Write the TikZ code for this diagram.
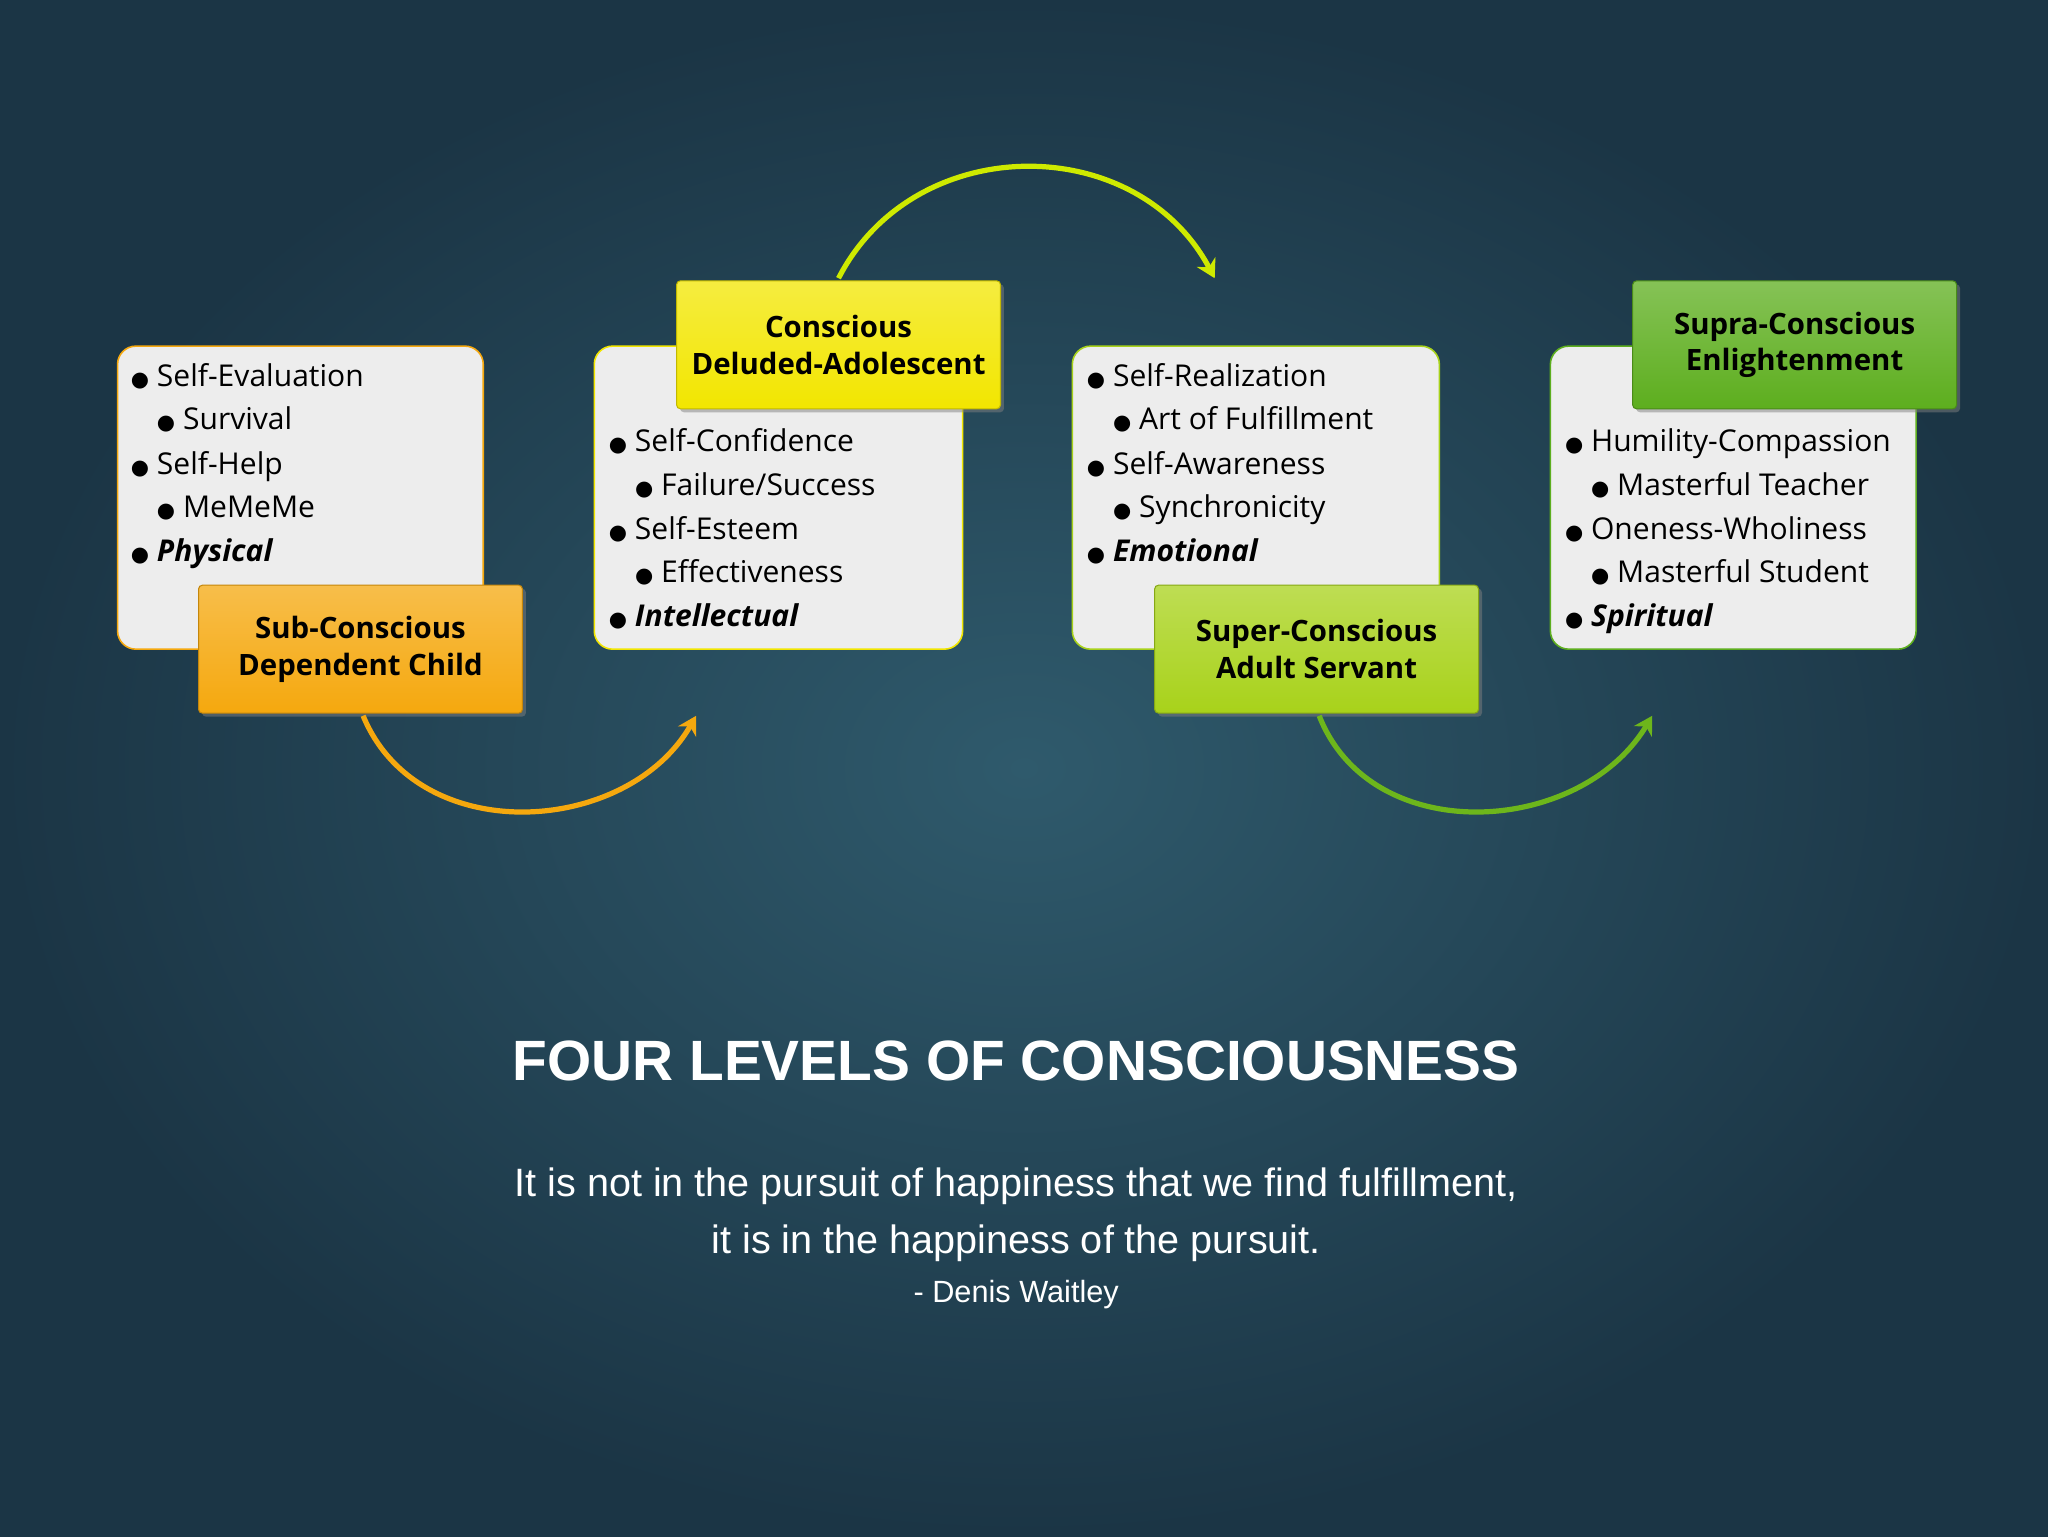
\documentclass[tikz,border=0pt]{standalone}
\usepackage{fontspec}
\setmainfont{Open Sans}
\newfontfamily\arial{Liberation Sans}
\newfontfamily\djvfont{DejaVu Sans}
\usetikzlibrary{arrows.meta,shadows}
\definecolor{bgin}{HTML}{2F5A6C}
\definecolor{bgout}{HTML}{1B3545}
\definecolor{boxfill}{HTML}{EDEDED}
\definecolor{corange}{HTML}{F5A80E}
\definecolor{cyellow}{HTML}{F2E600}
\definecolor{cygreen}{HTML}{A8D21A}
\definecolor{cgreen}{HTML}{5DAE1E}
\newcommand{\bul}{{\djvfont\fontsize{16}{20}\selectfont ●}\hspace{6pt}}
\tikzset{
 listbox/.style={draw=#1,line width=1.2pt,fill=boxfill,rounded corners=14pt},
 lab/.style={draw=#1!80!black,line width=0.8pt,top color=#1!75!white,bottom color=#1,rounded corners=3pt,drop shadow={opacity=0.5},minimum width=248pt,minimum height=98pt,align=center,font=\fontsize{22.5}{28}\selectfont\bfseries,text=black},
 it/.style={anchor=base west,font=\fontsize{23}{26}\selectfont,text=black,inner sep=0pt},
 arr/.style={line width=4pt,draw=#1,-{Stealth[length=14pt,width=16pt]}}
}
\begin{document}
\begin{tikzpicture}[x=1pt,y=-1pt]
\shade[inner color=bgin,outer color=bgout] (0,0) rectangle (1568,1176);
\useasboundingbox (0,0) rectangle (1568,1176);
% boxes
\draw[listbox=corange] (90,265) rectangle (370,497);
\draw[listbox=cyellow] (455,265) rectangle (737,497);
\draw[listbox=cygreen] (821,265) rectangle (1102,497);
\draw[listbox=cgreen] (1187,265) rectangle (1467,497);
% box1
\node[it] (a1) at (100,296) {\bul Self-Evaluation};
\node[it] (a2) at (120,329) {\bul Survival};
\node[it] (a3) at (100,363) {\bul Self-Help};
\node[it] (a4) at (120,396) {\bul MeMeMe};
\node[it] (a5) at (100,430) {\bul \textbf{\textit{Physical}}};
% box2
\node[it] (b1) at (466,346) {\bul Self-Confidence};
\node[it] (b2) at (486,379) {\bul Failure/Success};
\node[it] (b3) at (466,413) {\bul Self-Esteem};
\node[it] (b4) at (486,446) {\bul Effectiveness};
\node[it] (b5) at (466,480) {\bul \textbf{\textit{Intellectual}}};
% box3
\node[it] (c1) at (832,296) {\bul Self-Realization};
\node[it] (c2) at (852,329) {\bul Art of Fulfillment};
\node[it] (c3) at (832,363) {\bul Self-Awareness};
\node[it] (c4) at (852,396) {\bul Synchronicity};
\node[it] (c5) at (832,430) {\bul \textbf{\textit{Emotional}}};
% box4
\node[it] (d1) at (1198,346) {\bul Humility-Compassion};
\node[it] (d2) at (1218,379) {\bul Masterful Teacher};
\node[it] (d3) at (1198,413) {\bul Oneness-Wholiness};
\node[it] (d4) at (1218,446) {\bul Masterful Student};
\node[it] (d5) at (1198,480) {\bul \textbf{\textit{Spiritual}}};
% labels
\node[lab=corange] (l1) at (276,497) {Sub-Conscious\\Dependent Child};
\node[lab=cyellow] (l2) at (642,264) {Conscious\\Deluded-Adolescent};
\node[lab=cygreen] (l3) at (1008,497) {Super-Conscious\\Adult Servant};
\node[lab=cgreen] (l4) at (1374,264) {Supra-Conscious\\Enlightenment};
% arrows
\coordinate (e1) at (533,548);
\coordinate (e2) at (930,213);
\coordinate (e3) at (1265,548);
\draw[arr=corange] (278,548) .. controls (320,650) and (480,640) .. (e1);
\draw[arr=cyellow!85!green] (642,213) .. controls (700,100) and (870,100) .. (e2);
\draw[arr=cgreen!90!yellow] (1010,548) .. controls (1050,650) and (1210,640) .. (e3);
% text
\node[text=white,font=\arial\fontsize{43.5}{50}\selectfont\bfseries] (title) at (778,812) {FOUR LEVELS OF CONSCIOUSNESS};
\node[text=white,font=\arial\fontsize{30.3}{44}\selectfont,align=center] (quote) at (778,930) {It is not in the pursuit of happiness that we find fulfillment,\\it is in the happiness of the pursuit.};
\node[text=white,font=\arial\fontsize{23.5}{26}\selectfont] (auth) at (778,991) {- Denis Waitley};
\end{tikzpicture}
\end{document}
